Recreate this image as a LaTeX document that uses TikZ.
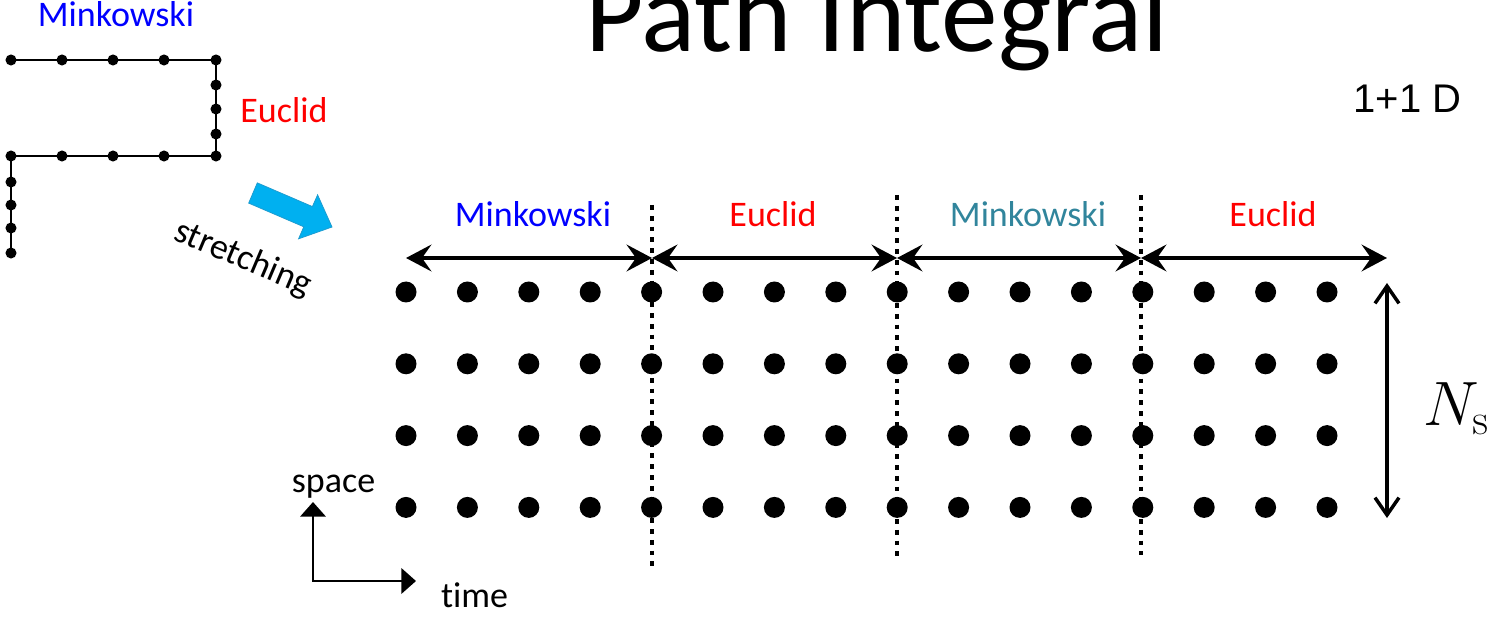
\RequirePackage{fix-cm}
\documentclass[tikz,border=0pt]{standalone}
\usepackage[no-math]{fontspec}
\setmainfont{Carlito}[Ligatures={NoCommon}]
\newfontfamily\arialfont{Liberation Sans}
\usetikzlibrary{arrows.meta}
\definecolor{mkblue}{HTML}{0000FF}
\definecolor{eured}{HTML}{FF0000}
\definecolor{mkteal}{HTML}{31859C}
\definecolor{fatblue}{HTML}{00B0F0}
\definecolor{fatedge}{HTML}{1E9CD0}
\begin{document}
\begin{tikzpicture}[x=0.75pt,y=-0.75pt,
  lbl/.style={font=\fontsize{27}{32}\selectfont, inner sep=0pt, anchor=base},
  bigdot/.style={circle, fill=black, inner sep=0pt, minimum size=15.75pt},
  smalldot/.style={circle, fill=black, inner sep=0pt, minimum size=8.3pt},
  harrow/.style={line width=3.2pt, {Stealth[length=19pt,width=20pt,inset=7pt]}-{Stealth[length=19pt,width=20pt,inset=7pt]}},
  varrow/.style={line width=2.6pt, line cap=round, {Straight Barb[length=13pt,width=18pt]}-{Straight Barb[length=13pt,width=18pt]}},
  dotline/.style={line width=3.5pt, dash pattern=on 3.6pt off 4.5pt},
  axisline/.style={line width=2pt, {Triangle[length=11pt,width=19pt]}-{Triangle[length=11pt,width=19pt]}}
]
\useasboundingbox (0,0) rectangle (1499,620);

% title
\node[font=\fontsize{85}{100}\selectfont, anchor=base, inner sep=0pt] (title) at (877,52) {Path Integral};
\node[font=\arialfont\fontsize{30}{36}\selectfont, anchor=base, inner sep=0pt] (dim) at (1407.5,113) {1+1 D};

% top-left path
\foreach [count=\k] \px/\py in {11/60,62/60,113/60,164/60,216/60,216/85,216/109,216/134,216/156,164/156,113/156,62/156,11/156,11/182,11/205,11/228,11/253}
  \node[smalldot] (s\k) at (\px,\py) {};
\draw[line width=2.2pt] (s1.center) \foreach \k in {2,...,17}{ -- (s\k.center)};
\node[lbl, text=mkblue] (tlmink) at (116,27) {Minkowski};
\node[lbl, text=eured] (tleucl) at (284,123) {Euclid};

% fat blue arrow
\filldraw[fill=fatblue, draw=fatedge, line width=0.6pt]
  (248.7,203.1) -- (257.3,182.9) -- (312.4,206.6) -- (317.6,194.9) -- (332,227)
  -- (298.6,238.8) -- (303.8,226.8) -- cycle;
\node[font=\fontsize{27}{32}\selectfont, inner sep=0pt, rotate=-23] (stretch) at (243,259) {stretching};

% dotted separators
\coordinate (v1t) at (652,205); \coordinate (v1b) at (652,568);
\coordinate (v2t) at (897,195); \coordinate (v2b) at (897,558);
\coordinate (v3t) at (1141,195); \coordinate (v3b) at (1141,555);
\draw[dotline] (v1t) -- (v1b);
\draw[dotline] (v2t) -- (v2b);
\draw[dotline] (v3t) -- (v3b);

% horizontal arrows
\coordinate (h0) at (406,258);
\coordinate (h1) at (652,258);
\coordinate (h2) at (897,258);
\coordinate (h3) at (1141,258);
\coordinate (h4) at (1387,258);
\draw[harrow] (h0) -- (h1);
\draw[harrow] (h1) -- (h2);
\draw[harrow] (h2) -- (h3);
\draw[harrow] (h3) -- (h4);

\node[lbl, text=mkblue] (lab1) at (533,227) {Minkowski};
\node[lbl, text=eured] (lab2) at (773,227) {Euclid};
\node[lbl, text=mkteal] (lab3) at (1028,227) {Minkowski};
\node[lbl, text=eured] (lab4) at (1273,227) {Euclid};

% lattice
\foreach \i in {0,...,15}
  \foreach \j in {0,...,3}
    \node[bigdot] (d-\i-\j) at ({406+61.4*\i},{292+71.8*\j}) {};

% Ns arrow
\coordinate (n1) at (1387,283);
\coordinate (n2) at (1387,518);
\draw[varrow] (n1) -- (n2);
\node[anchor=base west, inner sep=0pt, font=\fontsize{47}{56}\selectfont] (ns) at (1423,425) {$N_{\mathrm{s}}$};

% axes
\coordinate (ax0) at (313,581);
\coordinate (axy) at (313,502);
\coordinate (axx) at (416,581);
\draw[axisline] (axy) -- (ax0) -- (axx);
\node[lbl] (space) at (333.5,492) {space};
\node[lbl] (time) at (474.5,607) {time};
\end{tikzpicture}
\end{document}
